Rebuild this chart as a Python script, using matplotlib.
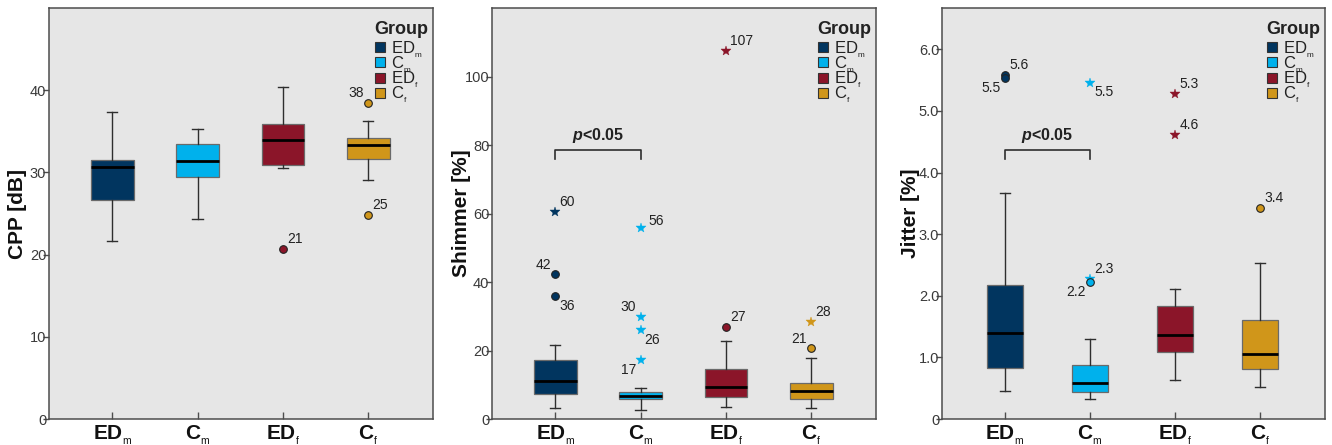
"""
Voice parameters by group: CPP, Shimmer, Jitter box plots (SPSS style).
"""
import matplotlib
matplotlib.use("Agg")
import matplotlib.pyplot as plt
import matplotlib.ticker as mticker
from matplotlib.lines import Line2D

plt.rcParams["font.family"] = ["Liberation Sans", "DejaVu Sans"]
plt.rcParams["mathtext.fontset"] = "custom"
plt.rcParams["mathtext.rm"] = "Liberation Sans"
plt.rcParams["mathtext.bf"] = "Liberation Sans:bold"
plt.rcParams["mathtext.it"] = "Liberation Sans:italic"
plt.rcParams["mathtext.bfit"] = "Liberation Sans:italic:bold"

# ── Groups ──
GROUP_BASE = ["ED", "C", "ED", "C"]
GROUP_SUB = ["m", "m", "f", "f"]
GROUP_COLORS = ["#01355F", "#00B1EC", "#8B1529", "#D0961A"]

# ── CPP [dB] ──
CPP_WHISLO = [21.7, 24.3, 30.5, 29.1]
CPP_Q1 = [26.6, 29.5, 30.9, 31.6]
CPP_MED = [30.7, 31.4, 34.0, 33.3]
CPP_Q3 = [31.5, 33.5, 35.9, 34.2]
CPP_WHISHI = [37.4, 35.3, 40.4, 36.2]
CPP_OUT_GROUP = [2, 3, 3]
CPP_OUT_VALUE = [20.7, 38.5, 24.8]
CPP_OUT_KIND = ["o", "o", "o"]
CPP_OUT_LABEL = ["21", "38", "25"]

# ── Shimmer [%] ──
SHIM_WHISLO = [3.1, 2.7, 3.4, 3.1]
SHIM_Q1 = [7.2, 5.7, 6.4, 5.7]
SHIM_MED = [11.0, 6.8, 9.4, 8.1]
SHIM_Q3 = [17.2, 8.0, 14.5, 10.4]
SHIM_WHISHI = [21.5, 9.2, 22.8, 17.9]
SHIM_OUT_GROUP = [0, 0, 0, 1, 1, 1, 1, 2, 2, 3, 3]
SHIM_OUT_VALUE = [60.5, 42.2, 35.9, 55.7, 29.9, 26.0, 17.3, 107.5, 27.0, 28.4, 20.6]
SHIM_OUT_KIND = ["*", "o", "o", "*", "*", "*", "*", "*", "o", "*", "o"]
SHIM_OUT_LABEL = ["60", "42", "36", "56", "30", "26", "17", "107", "27", "28", "21"]

# ── Jitter [%] ──
JIT_WHISLO = [0.46, 0.33, 0.64, 0.52]
JIT_Q1 = [0.82, 0.44, 1.08, 0.81]
JIT_MED = [1.40, 0.59, 1.36, 1.06]
JIT_Q3 = [2.18, 0.88, 1.83, 1.60]
JIT_WHISHI = [3.66, 1.30, 2.11, 2.53]
JIT_OUT_GROUP = [0, 0, 1, 1, 1, 2, 2, 3]
JIT_OUT_VALUE = [5.58, 5.53, 5.46, 2.28, 2.22, 5.28, 4.61, 3.43]
JIT_OUT_KIND = ["o", "o", "*", "*", "o", "*", "*", "o"]
JIT_OUT_LABEL = ["5.6", "5.5", "5.5", "2.3", "2.2", "5.3", "4.6", "3.4"]

# significance bracket (ED_m vs C_m): bar height, leg bottom
SHIM_BRACKET = (78.6, 76.0)
JIT_BRACKET = (4.36, 4.22)

# label anchors for outlier numbers (ur = upper right, ul, lr, ll)
CPP_ANCHOR = ["ur", "ul", "ur"]
SHIM_ANCHOR = ["ur", "ul", "lr", "r", "ul", "lr", "ll", "ur", "ur", "ur", "ul"]
JIT_ANCHOR = ["ur", "ll", "lr", "ur", "ll", "ur", "ur", "ur"]

BG = "#E6E6E6"
SPINE = "#4D4D4D"
TICK_TEXT = "#3A3A3A"
LINE = "#2E2E2E"

ANCHORS = {
    "ur": ((3, 2), "left", "bottom"),
    "ul": ((-3, 2), "right", "bottom"),
    "lr": ((3, -2), "left", "top"),
    "ll": ((-3, -2), "right", "top"),
    "r": ((6, 0), "left", "bottom"),
}


def group_tex(i, bold):
    base = GROUP_BASE[i]
    style = "mathbf" if bold else "mathrm"
    return r"$\%s{%s}_{{}_{\mathrm{%s}}}$" % (style, base, GROUP_SUB[i])


def draw_panel(ax, whislo, q1, med, q3, whishi, out_group, out_value, out_kind,
               out_label, anchors, ylim, yticks, ylabel, fmt, box_w, label_x,
               bracket=None):
    ax.set_facecolor(BG)
    stats = []
    for i in range(len(GROUP_BASE)):
        stats.append({"whislo": whislo[i], "q1": q1[i], "med": med[i],
                      "q3": q3[i], "whishi": whishi[i], "fliers": []})
    pos = list(range(1, len(stats) + 1))
    bp = ax.bxp(stats, positions=pos, widths=box_w, patch_artist=True,
                showfliers=False, capwidths=0.12,
                boxprops=dict(edgecolor="#6A6A6A", linewidth=0.9),
                medianprops=dict(color="black", linewidth=2),
                whiskerprops=dict(color=LINE, linewidth=1),
                capprops=dict(color=LINE, linewidth=1))
    for patch, col in zip(bp["boxes"], GROUP_COLORS):
        patch.set_facecolor(col)

    for g, v, k, lab, an in zip(out_group, out_value, out_kind, out_label, anchors):
        col = GROUP_COLORS[g]
        if k == "o":
            ax.plot(pos[g], v, marker="o", markersize=5.5, markerfacecolor=col,
                    markeredgecolor="#222222", markeredgewidth=0.8, zorder=5)
        else:
            ax.plot(pos[g], v, marker="*", markersize=7.5, markerfacecolor=col,
                    markeredgecolor=col, markeredgewidth=0.3, zorder=5)
        off, ha, va = ANCHORS[an]
        ax.annotate(lab, (pos[g], v), xytext=off, textcoords="offset points",
                    ha=ha, va=va, fontsize=10, color="#222222")

    if bracket is not None:
        ytop, ybot = bracket
        ax.plot([pos[0], pos[0], pos[1], pos[1]], [ybot, ytop, ytop, ybot],
                color=LINE, linewidth=1.2, zorder=4)
        ax.text((pos[0] + pos[1]) / 2, ytop + (ylim[1] - ylim[0]) * 0.012,
                r"$\mathbfit{p}$<0.05", ha="center", va="bottom",
                fontsize=11.5, fontweight="bold", color="#222222")

    ax.set_xlim(0.26, 4.76)
    ax.set_ylim(*ylim)
    ax.set_yticks(yticks)
    ax.yaxis.set_major_formatter(mticker.FuncFormatter(fmt))
    ax.set_xticks(pos)
    ax.set_xticklabels([group_tex(i, True) for i in range(len(pos))],
                       fontsize=15, color="#111111")
    ax.tick_params(axis="x", direction="in", length=5, width=1, color=SPINE, pad=3)
    ax.tick_params(axis="y", direction="out", length=4, width=1, color=SPINE,
                   labelsize=10.5, labelcolor=TICK_TEXT, pad=-2)
    ax.set_ylabel(ylabel, fontsize=15, fontweight="bold", color="#111111")
    ax.yaxis.set_label_coords(label_x, 0.5)
    for s in ax.spines.values():
        s.set_color(SPINE)
        s.set_linewidth(1.1)

    handles = [Line2D([], [], linestyle="none", marker="s", markersize=7,
                      markerfacecolor=c, markeredgecolor="#333333", markeredgewidth=0.8)
               for c in GROUP_COLORS]
    leg = ax.legend(handles, [group_tex(i, False) for i in range(len(pos))],
                    loc="upper right", bbox_to_anchor=(1.0, 0.98),
                    frameon=False, title="Group",
                    fontsize=12, handlelength=0.7, handletextpad=0.3,
                    labelspacing=-0.32, borderpad=0.3, borderaxespad=0.0)
    leg.get_title().set_fontweight("bold")
    leg.get_title().set_fontsize(13)
    leg.get_title().set_color("#222222")
    leg._legend_box.align = "left"
    leg._legend_box.sep = 0.5
    for t in leg.get_texts():
        t.set_color("#222222")


def int_fmt(v, _):
    return f"{v:.0f}"


def jit_fmt(v, _):
    return "0" if v == 0 else f"{v:.1f}"


fig = plt.figure(figsize=(13.32, 4.45), dpi=100)
fig.patch.set_facecolor("white")
ax1 = fig.add_axes([0.0368, 0.0584, 0.2883, 0.9236])
ax2 = fig.add_axes([0.3694, 0.0584, 0.2883, 0.9236])
ax3 = fig.add_axes([0.7072, 0.0584, 0.2875, 0.9236])

draw_panel(ax1, CPP_WHISLO, CPP_Q1, CPP_MED, CPP_Q3, CPP_WHISHI,
           CPP_OUT_GROUP, CPP_OUT_VALUE, CPP_OUT_KIND, CPP_OUT_LABEL, CPP_ANCHOR,
           (0, 50), [0, 10, 20, 30, 40], "CPP [dB]", int_fmt, 0.5, -0.057)
draw_panel(ax2, SHIM_WHISLO, SHIM_Q1, SHIM_MED, SHIM_Q3, SHIM_WHISHI,
           SHIM_OUT_GROUP, SHIM_OUT_VALUE, SHIM_OUT_KIND, SHIM_OUT_LABEL, SHIM_ANCHOR,
           (0, 120), [0, 20, 40, 60, 80, 100], "Shimmer [%]", int_fmt, 0.5, -0.055,
           bracket=SHIM_BRACKET)
draw_panel(ax3, JIT_WHISLO, JIT_Q1, JIT_MED, JIT_Q3, JIT_WHISHI,
           JIT_OUT_GROUP, JIT_OUT_VALUE, JIT_OUT_KIND, JIT_OUT_LABEL, JIT_ANCHOR,
           (0, 6.67), [0, 1, 2, 3, 4, 5, 6], "Jitter [%]", jit_fmt, 0.42, -0.057,
           bracket=JIT_BRACKET)

fig.savefig("out.png", dpi=100, facecolor="white")
plt.close(fig)
